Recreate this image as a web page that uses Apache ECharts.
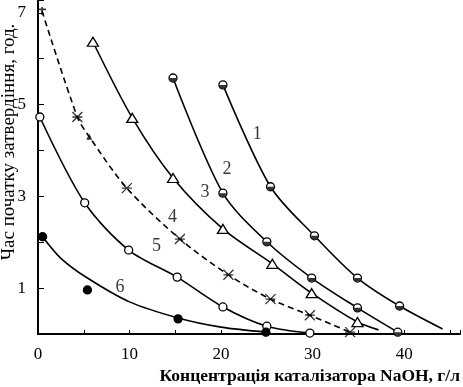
<!DOCTYPE html>
<html><head><meta charset="utf-8">
<script src="https://cdn.jsdelivr.net/npm/echarts@6/dist/echarts.min.js"></script>
<style>html,body{margin:0;padding:0;background:#fff}#c{width:463px;height:387px}</style>
</head><body><div id="c"></div>
<script>
// x: NaOH concentration (g/l), y: setting start time (h)
const xTicks = [0, 10, 20, 30, 40];
const yTicks = [1, 3, 5, 7];
// curve 1 (half-filled circles)
const c1x = [20.2, 25.4, 30.2, 34.9, 39.5];
const c1y = [5.43, 3.21, 2.14, 1.22, 0.61];
const c1EndX = [44.2], c1EndY = [0.11];
// curve 2 (half-filled circles)
const c2x = [14.75, 20.2, 25.0, 29.9, 34.9, 39.3];
const c2y = [5.58, 3.07, 2.01, 1.22, 0.57, 0.04];
// curve 3 (open triangles)
const c3x = [6.0, 10.3, 14.75, 20.2, 25.6, 29.9, 34.9];
const c3y = [6.37, 4.71, 3.40, 2.29, 1.53, 0.89, 0.26];
const c3EndX = [37.2], c3EndY = [0.09];
// curve 4 (dashed, asterisks)
const c4x = [0.44, 4.3, 5.6, 9.7, 15.5, 20.8, 25.4, 29.7, 34.1];
const c4y = [7.04, 4.73, 4.30, 3.18, 2.07, 1.29, 0.76, 0.41, 0.04];
const c4sym = ['plus', 'star', 'tri', 'star', 'star', 'star', 'star', 'star', 'star'];
// curve 5 (open circles)
const c5x = [0.2, 5.1, 9.9, 15.2, 20.2, 25.0, 29.7];
const c5y = [4.73, 2.86, 1.83, 1.24, 0.59, 0.17, 0.02];
// curve 6 (filled circles): fitted line and measured points
const c6LineX = [0.5, 2.5, 5.4, 10, 15.3, 20, 25];
const c6LineY = [2.12, 1.65, 1.22, 0.70, 0.35, 0.15, 0.04];
const c6x = [0.5, 5.4, 15.3, 24.9];
const c6y = [2.12, 0.96, 0.33, 0.04];
// curve number labels (data coordinates)
const labNames = ['1', '2', '3', '4', '5', '6'];
const labX = [24.0, 20.7, 18.3, 14.75, 13.0, 9.0];
const labY = [4.34, 3.58, 3.07, 2.53, 1.90, 1.00];

const zip = (a, b) => a.map((v, i) => [v, b[i]]);
const FONT = 'Liberation Serif';
const BLK = '#000';
const STAR = 'path://M0,0L10,10M10,0L0,10M0,5L10,5';
const PLUS = 'path://M5,0L5,10M1,3L9,3';
const HALF = 'path://M0,0L10,0A5,5 0 0 1 0,0Z';

function lineSeries(data, dashed) {
  return {
    type: 'line', data: data, smooth: 0.3, symbol: 'none',
    lineStyle: { color: BLK, width: 1.6, type: dashed ? [6, 4] : 'solid' }, z: 2
  };
}
function scatter(data, symbol, size, fill, extra) {
  return Object.assign({
    type: 'scatter', data: data, symbol: symbol, symbolSize: size,
    itemStyle: { color: fill, borderColor: BLK, borderWidth: 1.3, opacity: 1 }, z: 3
  }, extra || {});
}

const c4data = zip(c4x, c4y).map((p, i) => {
  const s = c4sym[i];
  if (s === 'plus') return { value: p, symbol: PLUS, symbolSize: 8, itemStyle: { color: 'none', borderColor: BLK, borderWidth: 1.6 } };
  if (s === 'tri') return { value: p, symbol: 'triangle', symbolSize: 6, itemStyle: { color: BLK, borderColor: BLK, borderWidth: 0 } };
  return { value: p, symbol: STAR, symbolSize: 10, itemStyle: { color: 'none', borderColor: BLK, borderWidth: 1.3 } };
});

const series = [
  lineSeries(zip(c1x.concat(c1EndX), c1y.concat(c1EndY))),
  lineSeries(zip(c2x, c2y)),
  lineSeries(zip(c3x.concat(c3EndX), c3y.concat(c3EndY))),
  lineSeries(zip(c4x, c4y), true),
  lineSeries(zip(c5x, c5y)),
  lineSeries(zip(c6LineX, c6LineY)),
  scatter(zip(c1x, c1y), 'circle', 8, '#fff'),
  scatter(zip(c1x, c1y), HALF, [7, 3.5], BLK, { symbolOffset: [0, 1.75], itemStyle: { color: BLK, borderWidth: 0 }, z: 4 }),
  scatter(zip(c2x, c2y), 'circle', 8, '#fff'),
  scatter(zip(c2x, c2y), HALF, [7, 3.5], BLK, { symbolOffset: [0, 1.75], itemStyle: { color: BLK, borderWidth: 0 }, z: 4 }),
  scatter(zip(c3x, c3y), 'triangle', [11, 9], '#fff'),
  { type: 'scatter', data: c4data, z: 3 },
  scatter(zip(c5x, c5y), 'circle', 8, '#fff'),
  scatter(zip(c6x, c6y), 'circle', 8, BLK),
  {
    type: 'scatter', symbolSize: 1, z: 5, itemStyle: { color: 'rgba(0,0,0,0)' },
    data: labNames.map((n, i) => ({ name: n, value: [labX[i], labY[i]] })),
    label: { show: true, position: [0, 0], align: 'center', verticalAlign: 'middle', formatter: p => p.name,
      color: BLK, fontFamily: FONT, fontSize: 18, textBorderWidth: 0 }
  }
];

const chart = echarts.init(document.getElementById('c'), null, { renderer: 'canvas' });
chart.setOption({
  animation: false,
  backgroundColor: '#fff',
  grid: { left: 38, right: 3, top: 0, bottom: 53, containLabel: false, outerBoundsMode: 'none' },
  xAxis: {
    type: 'value', min: 0, max: 46.1, interval: 5,
    axisLine: { lineStyle: { color: BLK, width: 2 } },
    axisTick: { inside: true, length: 4, lineStyle: { color: BLK, width: 1 } },
    splitLine: { show: false },
    axisLabel: { formatter: v => (xTicks.indexOf(v) >= 0 ? String(v) : ''), color: BLK, fontFamily: FONT, fontSize: 17, margin: 12 },
    name: 'Концентрація каталізатора NaOH, г/л', nameLocation: 'end', nameGap: 0, nameMoveOverlap: false,
    nameTextStyle: { align: 'right', verticalAlign: 'top', padding: [33, 0, 0, 0], color: BLK, fontFamily: FONT, fontSize: 17.5, fontWeight: 'bold' }
  },
  yAxis: {
    type: 'value', min: 0, max: 7.28, interval: 1,
    axisLine: { lineStyle: { color: BLK, width: 2 } },
    axisTick: { inside: true, length: 6, lineStyle: { color: BLK, width: 1 } },
    splitLine: { show: false },
    axisLabel: { formatter: v => (yTicks.indexOf(v) >= 0 ? String(v) : ''), color: BLK, fontFamily: FONT, fontSize: 17, margin: 12 },
    name: 'Час початку затвердіння, год.', nameLocation: 'middle', nameGap: 19, nameMoveOverlap: false,
    nameTextStyle: { color: BLK, fontFamily: FONT, fontSize: 19, padding: [0, 0, 0, 50] }
  },
  series: series
});
</script></body></html>
